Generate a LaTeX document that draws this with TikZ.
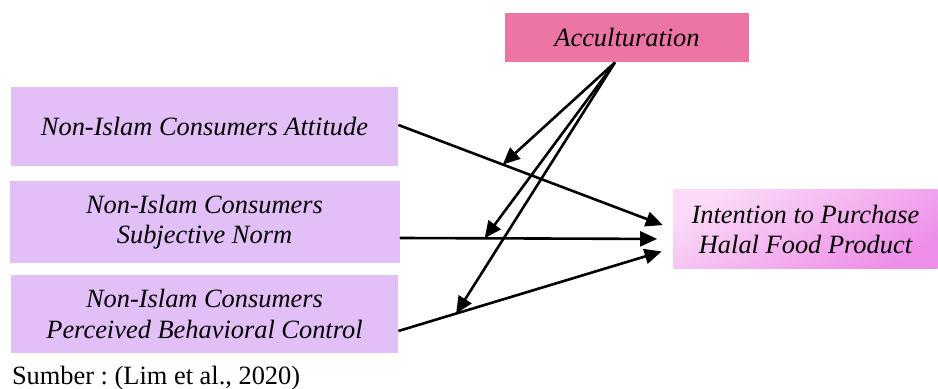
\documentclass[tikz,border=0pt]{standalone}
\usepackage{fontspec}
\setmainfont{Liberation Serif}
\usepackage{tikz}
\usetikzlibrary{calc, arrows.meta, positioning}
\tikzset{
    rectanglenode/.style = {draw=none, rectangle, inner sep = 0em, node distance=0em,
      font=\fontsize{13.2}{15.2}\selectfont\itshape},
    textnode/.style  = {draw=none, fill=none, rectangle, minimum size=0cm, inner sep = 0em,
      node distance=0em, font=\fontsize{13.2}{15.2}\selectfont},
    connect/.style = {black, line width=1.3pt, -{Triangle[length=8.5pt, width=7.5pt]}},
    every text node part/.style={align=center}
}
\definecolor{lav}{RGB}{226, 191, 246}
\definecolor{accpink}{RGB}{236, 117, 165}
\definecolor{intlight}{RGB}{250, 218, 246}
\definecolor{intdark}{RGB}{238, 142, 232}

\begin{document}
\begin{tikzpicture}[x=0.5pt, y=-0.5pt]
\useasboundingbox (0,0) rectangle (938,389);

\node[rectanglenode, name=att, minimum width=193.5pt, minimum height=39.5pt, fill=lav]
	at (204.5,126.5) {Non-Islam Consumers Attitude};
\node[rectanglenode, name=norm, below of = att, yshift=-47.75pt,
	minimum width=195pt, minimum height=41pt, fill=lav] {Non-Islam Consumers\\Subjective Norm};
\node[rectanglenode, name=pbc, below of = norm, yshift=-46pt,
	minimum width=193.5pt, minimum height=39pt, fill=lav] {Non-Islam Consumers\\Perceived Behavioral Control};

\node[rectanglenode, name=acc, right of = att, xshift=211.25pt, yshift=44.5pt,
	minimum width=122pt, minimum height=24.5pt, fill=accpink] {Acculturation};
\node[rectanglenode, name=intent, right of = norm, xshift=300.5pt, yshift=-3.75pt,
	minimum width=132pt, minimum height=39.5pt, top color=intlight, bottom color=intdark,
	shading angle=30] {Intention to Purchase\\Halal Food Product};

\node[textnode, name=src, anchor=base west] at ($(pbc.south west)+(0.5pt,-15.5pt)$)
	{\frenchspacing Sumber : (Lim et al., 2020)};

% main paths
\draw[connect, shorten >=5.5pt] ([yshift=0.75pt]att.east) -- coordinate[pos=0.38] (m1) ([yshift=0.25pt]intent.west);
\draw[connect, shorten >=8pt] ([yshift=-8pt]norm.east) -- coordinate[pos=0.31] (m2) ([yshift=-4.75pt]intent.west);
\draw[connect, shorten >=6pt] ([yshift=-8.5pt]pbc.east) -- coordinate[pos=0.21] (m3) ([yshift=-9.25pt]intent.west);

% moderation
\draw[connect] ([xshift=-6pt]acc.south) -- (m1);
\draw[connect] ([xshift=-6pt]acc.south) -- (m2);
\draw[connect] ([xshift=-6pt]acc.south) -- (m3);
\end{tikzpicture}
\end{document}
